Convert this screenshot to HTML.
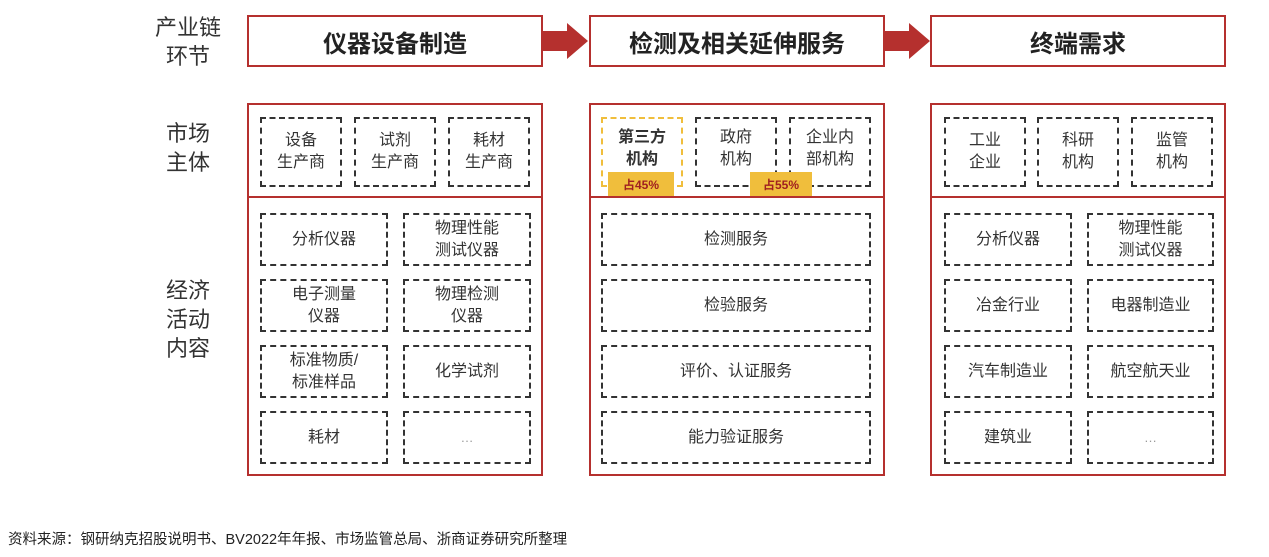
<!DOCTYPE html><html><head><meta charset="utf-8"><style>
body{margin:0;width:1269px;height:557px;background:#fff;position:relative;overflow:hidden;font-family:"Liberation Sans","Noto Sans CJK SC",sans-serif;color:#333}
div{position:absolute;box-sizing:border-box}
.h{border:2px solid #b5302e;display:flex;align-items:center;justify-content:center;font-size:24px;font-weight:bold;color:#222;top:15px;height:52px;width:296px}
.o{border:2px solid #b5302e;top:103px;height:373px;width:296px}
.d{border:2px dashed #333;display:flex;align-items:center;justify-content:center;text-align:center;font-size:16px;line-height:22px;color:#333}
.l{font-size:22px;line-height:29px;color:#333;left:150px;text-align:center;width:76px}
.b{background:#f0be3c;color:#a02020;font-size:12px;font-weight:bold;display:flex;align-items:center;justify-content:center}
</style></head><body>
<div class="l" style="top:13px">产业链<br>环节</div>
<div class="l" style="top:119px">市场<br>主体</div>
<div class="l" style="top:276px">经济<br>活动<br>内容</div>
<div class="h" style="left:247px">仪器设备制造</div>
<div class="h" style="left:589px">检测及相关延伸服务</div>
<div class="h" style="left:930px">终端需求</div>
<svg style="position:absolute;left:0;top:0" width="1269" height="100">
<polygon points="543,31 567,31 567,23 588,41 567,59 567,51 543,51" fill="#b5302e"/>
<polygon points="885,31 909,31 909,23 930,41 909,59 909,51 885,51" fill="#b5302e"/>
</svg>
<div class="o" style="left:247px"></div><div class="o" style="left:589px"></div><div class="o" style="left:930px"></div>
<div style="left:247px;top:196px;width:296px;height:2px;background:#b5302e"></div>
<div style="left:589px;top:196px;width:296px;height:2px;background:#b5302e"></div>
<div style="left:930px;top:196px;width:296px;height:2px;background:#b5302e"></div>

<div class="d" style="left:260px;top:117px;width:82px;height:70px">设备<br>生产商</div>
<div class="d" style="left:354px;top:117px;width:82px;height:70px">试剂<br>生产商</div>
<div class="d" style="left:448px;top:117px;width:82px;height:70px">耗材<br>生产商</div>

<div class="d" style="left:601px;top:117px;width:82px;height:70px;border-color:#f0be3c;font-weight:bold;padding-bottom:6px">第三方<br>机构</div>
<div class="d" style="left:695px;top:117px;width:82px;height:70px;padding-bottom:6px">政府<br>机构</div>
<div class="d" style="left:789px;top:117px;width:82px;height:70px;padding-bottom:6px">企业内<br>部机构</div>
<div class="b" style="left:608px;top:172px;width:66px;height:24px">占45%</div>
<div class="b" style="left:750px;top:172px;width:62px;height:24px">占55%</div>

<div class="d" style="left:944px;top:117px;width:82px;height:70px">工业<br>企业</div>
<div class="d" style="left:1037px;top:117px;width:82px;height:70px">科研<br>机构</div>
<div class="d" style="left:1131px;top:117px;width:82px;height:70px">监管<br>机构</div>

<div class="d" style="left:260px;top:213px;width:128px;height:53px">分析仪器</div>
<div class="d" style="left:403px;top:213px;width:128px;height:53px">物理性能<br>测试仪器</div>
<div class="d" style="left:260px;top:279px;width:128px;height:53px">电子测量<br>仪器</div>
<div class="d" style="left:403px;top:279px;width:128px;height:53px">物理检测<br>仪器</div>
<div class="d" style="left:260px;top:345px;width:128px;height:53px">标准物质/<br>标准样品</div>
<div class="d" style="left:403px;top:345px;width:128px;height:53px">化学试剂</div>
<div class="d" style="left:260px;top:411px;width:128px;height:53px">耗材</div>
<div class="d" style="left:403px;top:411px;width:128px;height:53px;color:#999;font-size:13px">…</div>

<div class="d" style="left:601px;top:213px;width:270px;height:53px">检测服务</div>
<div class="d" style="left:601px;top:279px;width:270px;height:53px">检验服务</div>
<div class="d" style="left:601px;top:345px;width:270px;height:53px">评价、认证服务</div>
<div class="d" style="left:601px;top:411px;width:270px;height:53px">能力验证服务</div>

<div class="d" style="left:944px;top:213px;width:128px;height:53px">分析仪器</div>
<div class="d" style="left:1087px;top:213px;width:127px;height:53px">物理性能<br>测试仪器</div>
<div class="d" style="left:944px;top:279px;width:128px;height:53px">冶金行业</div>
<div class="d" style="left:1087px;top:279px;width:127px;height:53px">电器制造业</div>
<div class="d" style="left:944px;top:345px;width:128px;height:53px">汽车制造业</div>
<div class="d" style="left:1087px;top:345px;width:127px;height:53px">航空航天业</div>
<div class="d" style="left:944px;top:411px;width:128px;height:53px">建筑业</div>
<div class="d" style="left:1087px;top:411px;width:127px;height:53px;color:#999;font-size:13px">…</div>

<div style="left:8px;top:528px;font-size:14.5px;color:#222;white-space:nowrap">资料来源：钢研纳克招股说明书、BV2022年年报、市场监管总局、浙商证券研究所整理</div>
</body></html>
